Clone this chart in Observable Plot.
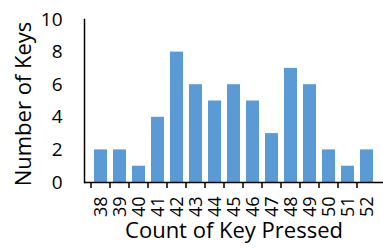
<!DOCTYPE html>
<html>
<head>
<meta charset="utf-8">
<script src="https://cdn.jsdelivr.net/npm/d3@7"></script>
<script src="https://cdn.jsdelivr.net/npm/@observablehq/plot@0.6"></script>
<style>
  html, body { margin: 0; padding: 0; background: #fff; }
  svg { display: block; }
</style>
</head>
<body>
<div id="chart"></div>
<script>
const keys = ["38","39","40","41","42","43","44","45","46","47","48","49","50","51","52"];
const counts = [2,2,1,4,8,6,5,6,5,3,7,6,2,1,2];
const yTicks = [0,2,4,6,8,10];
const xTitle = "Count of Key Pressed";
const yTitle = "Number of Keys";

const data = keys.map((k, i) => ({key: k, count: counts[i]}));
const font = "'Open Sans', Lato, sans-serif";

const chart = Plot.plot({
  width: 383,
  height: 249,
  marginLeft: 84,
  marginRight: 0,
  marginTop: 19,
  marginBottom: 67,
  style: {fontFamily: font, fontSize: "18px", color: "#000", background: "#fff"},
  x: {type: "band", domain: keys, paddingInner: 0.3, paddingOuter: 0.15, axis: null},
  y: {domain: [0, 10], axis: null},
  marks: [
    Plot.barY(data, {x: "key", y: "count", fill: "#5b9bd5"}),
    Plot.axisY({ticks: yTicks, tickSize: 0, tickPadding: 22, label: null, fontSize: 19}),
    Plot.axisX({ticks: keys, tickSize: 6, tickFormat: () => "", dx: -10, label: null, strokeWidth: 1.5}),
    Plot.axisX({ticks: keys, tickSize: 0, tickRotate: -90, tickPadding: 14, label: null, fontSize: 18}),
    Plot.frame({anchor: "left", strokeWidth: 1.5}),
    Plot.ruleY([0], {strokeWidth: 1.5}),
    Plot.text([xTitle], {frameAnchor: "bottom", dy: 55, fontSize: 22, fill: "#000"}),
    Plot.text([yTitle], {frameAnchor: "left", rotate: -90, textAnchor: "middle", dx: -61, dy: 3, fontSize: 22, fill: "#000"})
  ]
});
document.getElementById("chart").appendChild(chart);
</script>
</body>
</html>
